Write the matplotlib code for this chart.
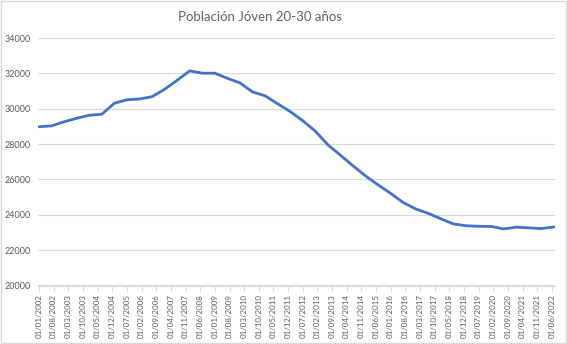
import pandas as pd
import matplotlib.pyplot as plt
from matplotlib.patches import Rectangle

# semiannual population values (01/01 and 01/07 of each year)
fechas = pd.date_range("2002-01-01", "2022-07-01", freq="6MS")
poblacion = [
    28980, 29030, 29260, 29460, 29630, 29690, 30310, 30510, 30550, 30680,
    31100, 31610, 32140, 32010, 32010, 31720, 31460, 30950, 30730, 30280,
    29840, 29320, 28730, 27960, 27370, 26770, 26200, 25690, 25210, 24690,
    24330, 24080, 23770, 23480, 23380, 23350, 23340, 23200, 23300, 23260,
    23220, 23310,
]
# axis labels every 7 months
fechas_eje = pd.date_range("2002-01-01", "2022-06-01", freq="7MS")
y_ticks = list(range(20000, 34001, 2000))

titulo = "Población Jóven 20-30 años"
gris_texto = "#595959"
gris_linea = "#D9D9D9"
azul = "#4472C4"


def meses(fs):
    return [(f.year - 2002) * 12 + f.month - 1 for f in fs]


plt.rcParams["font.family"] = ["Lato", "DejaVu Sans"]

fig = plt.figure(figsize=(5.67, 3.44), dpi=100)
ax = fig.add_axes([38 / 567, 58.5 / 344, 517 / 567, 247.5 / 344])

ax.plot(meses(fechas), poblacion, color=azul, linewidth=2.0,
        solid_capstyle="round", solid_joinstyle="round")

ax.set_xlim(-0.5, 246.5)
ax.set_ylim(20000, 34000)
ax.set_yticks(y_ticks)
ax.set_yticklabels([str(v) for v in y_ticks])
ax.set_xticks(meses(fechas_eje))
ax.set_xticklabels([f.strftime("%d/%m/%Y") for f in fechas_eje], rotation=90)

ax.grid(axis="y", color=gris_linea, linewidth=0.8)
ax.set_axisbelow(True)
for lado in ["top", "right", "left"]:
    ax.spines[lado].set_visible(False)
ax.spines["bottom"].set_color(gris_linea)
ax.spines["bottom"].set_linewidth(0.8)

ax.tick_params(axis="y", length=0, pad=5, labelsize=6.5, labelcolor=gris_texto)
ax.tick_params(axis="x", length=3.5, width=0.8, color=gris_linea, pad=2.5,
               labelsize=5.7, labelcolor=gris_texto)

fig.text(260.5 / 567, 1 - 17 / 344, titulo, ha="center", va="center",
         fontsize=9.5, color="#606060")

fig.patches.append(Rectangle((0.001, 0.002), 0.997, 0.995, transform=fig.transFigure,
                             fill=False, edgecolor=gris_linea, linewidth=1))

fig.savefig("out.png", dpi=100)
